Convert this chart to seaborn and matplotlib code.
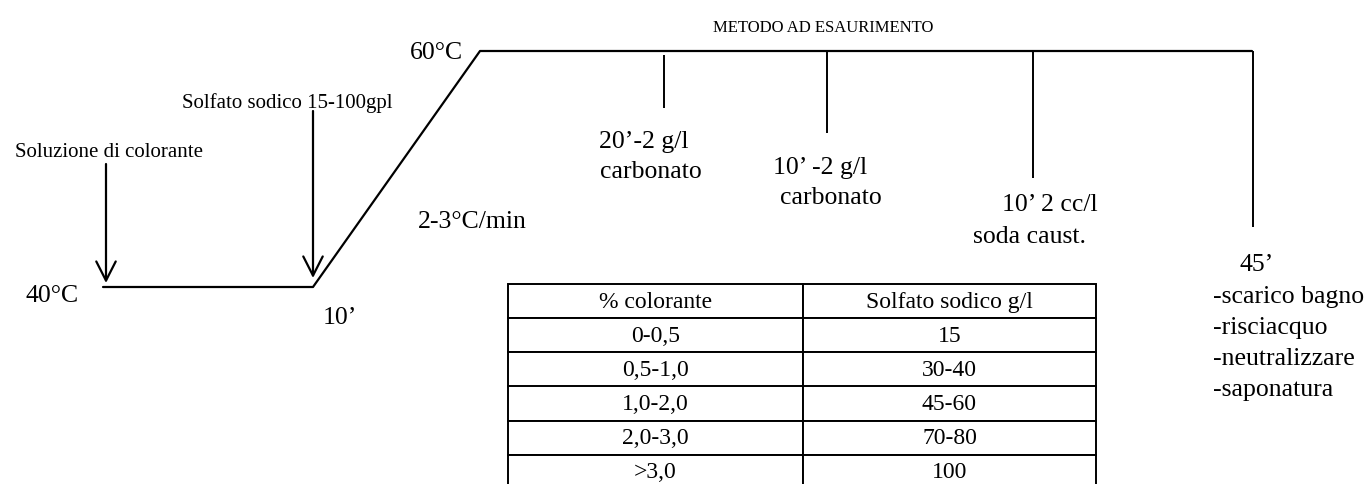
import numpy as np
import pandas as pd
import matplotlib
matplotlib.use("Agg")
import matplotlib.pyplot as plt
import seaborn as sns

# ----------------------------
# Data (schematic units = pixels of the sheet)
# ----------------------------

# temperature profile: 40°C hold, ramp, 60°C hold
profile_x = [103, 313, 480, 1252]
profile_y = [288, 288, 52, 52]

# drops from the 60°C line (additions / end)
drop_x = [664, 827, 1033, 1253]
drop_top = [56, 52, 52, 52]
drop_bottom = [109, 134, 179, 228]

# arrows for additions on the 40°C step
arrow_x = [106, 313]
arrow_top = [165, 112]
arrow_bottom = [284, 279]
arrow_labels = ["Soluzione di colorante", "Solfato sodico 15-100gpl"]

# table
table_header = ["% colorante", "Solfato sodico g/l"]
colorante = ["0-0,5", "0,5-1,0", "1,0-2,0", "2,0-3,0", ">3,0"]
solfato = ["15", "30-40", "45-60", "70-80", "100"]

# ----------------------------
# Figure
# ----------------------------

sns.set_theme(style="white")
plt.rcParams["font.family"] = ["Liberation Serif", "DejaVu Serif"]
plt.rcParams["text.color"] = "black"

W, H = 1372, 485
fig = plt.figure(figsize=(W / 100, H / 100), dpi=100)
ax = fig.add_axes([0, 0, 1, 1])
ax.set_xlim(0, W)
ax.set_ylim(H, 0)
ax.axis("off")

df = pd.DataFrame({"x": profile_x, "y": profile_y})
sns.lineplot(data=df, x="x", y="y", sort=False, estimator=None,
             color="black", lw=1.6, ax=ax)

ax.vlines(drop_x, drop_top, drop_bottom, color="black", lw=1.4)

for x, yt, yb in zip(arrow_x, arrow_top, arrow_bottom):
    ax.annotate("", xy=(x, yb), xytext=(x, yt),
                arrowprops=dict(arrowstyle="->,head_length=0.55,head_width=0.28",
                                lw=1.6, color="black", mutation_scale=25,
                                shrinkA=0, shrinkB=0))

big = 18.5
small = 15

ax.text(463, 53, "60°C", fontsize=big, ha="right", va="center")
ax.text(26, 296, "40°C", fontsize=big, ha="left", va="center")
ax.text(323, 318, "10\u2019", fontsize=big, ha="left", va="center")
ax.text(418, 222, "2-3°C/min", fontsize=big, ha="left", va="center")

ax.text(15, 153, arrow_labels[0], fontsize=small, ha="left", va="center")
ax.text(182, 103, arrow_labels[1], fontsize=small, ha="left", va="center")

ax.text(823, 28, "METODO AD ESAURIMENTO", fontsize=12, ha="center", va="center")

ax.text(599, 142, "20\u2019-2 g/l", fontsize=big, ha="left", va="center")
ax.text(600, 172, "carbonato", fontsize=big, ha="left", va="center")
ax.text(773, 168, "10\u2019 -2 g/l", fontsize=big, ha="left", va="center")
ax.text(780, 198, "carbonato", fontsize=big, ha="left", va="center")
ax.text(1002, 205, "10\u2019 2 cc/l", fontsize=big, ha="left", va="center")
ax.text(973, 237, "soda caust.", fontsize=big, ha="left", va="center")

ax.text(1240, 265, "45\u2019", fontsize=big, ha="left", va="center")
steps = ["-scarico bagno", "-risciacquo", "-neutralizzare", "-saponatura"]
for i, s in enumerate(steps):
    ax.text(1213, 297 + i * 31, s, fontsize=big, ha="left", va="center")

# ----------------------------
# Table
# ----------------------------

x0, xm, x1, y0, y1 = 508, 803, 1096, 285, 490
cells = [[c, s] for c, s in zip(colorante, solfato)]
tab = ax.table(cellText=cells, colLabels=table_header, cellLoc="center",
               colWidths=[(xm - x0) / (x1 - x0), (x1 - xm) / (x1 - x0)],
               bbox=[x0 / W, 1 - y1 / H, (x1 - x0) / W, (y1 - y0) / H])
tab.auto_set_font_size(False)
for (r, c), cell in tab.get_celld().items():
    cell.set_linewidth(1.4)
    cell.set_edgecolor("black")
    cell.get_text().set_fontsize(17)
    cell.get_text().set_color("black")
    cell.get_text().set_family(["Liberation Serif", "DejaVu Serif"])

fig.savefig("out.png", dpi=100)
